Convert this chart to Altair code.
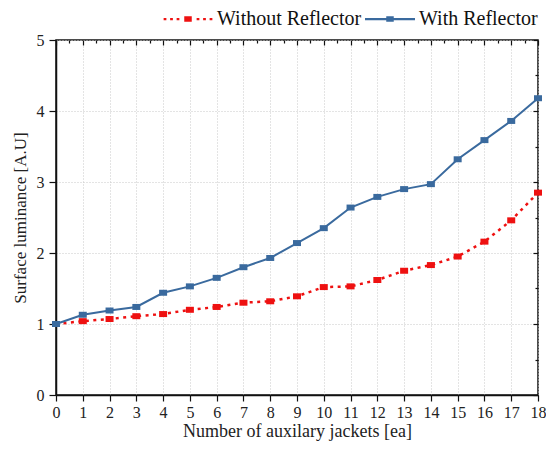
import altair as alt
import pandas as pd

# ---- data ----
jackets = list(range(19))
without_reflector = [1.00, 1.04, 1.07, 1.11, 1.14, 1.20, 1.24, 1.30, 1.32, 1.39,
                     1.52, 1.53, 1.62, 1.75, 1.83, 1.95, 2.16, 2.46, 2.85]
with_reflector = [1.00, 1.13, 1.19, 1.24, 1.44, 1.53, 1.65, 1.80, 1.93, 2.14,
                  2.35, 2.64, 2.79, 2.90, 2.97, 3.32, 3.59, 3.86, 4.18]
series_names = ["Without Reflector", "With Reflector"]
series_colors = ["#ee1111", "#3a6a9e"]
x_tick_values = [i / 2 for i in range(37)]
y_tick_values = [i / 2 for i in range(11)]

df = pd.DataFrame({
    "jackets": jackets * 2,
    "lum": without_reflector + with_reflector,
    "series": [series_names[0]] * len(jackets) + [series_names[1]] * len(jackets),
})

W, H = 482, 355
FONT = "Liberation Serif"
IS_MAJOR = "datum.value % 1 === 0"


def cond(major, minor):
    return {"condition": {"test": IS_MAJOR, "value": major}, "value": minor}


def rect(cx, hw, hh):
    return f"M{cx - hw:.3f},{-hh:.3f}H{cx + hw:.3f}V{hh:.3f}H{cx - hw:.3f}Z"


marker_shape = rect(0, 1, 0.75)
legend_red = "".join(rect(c, 0.055, 0.045) for c in (-0.92, -0.66, -0.40, 0.40, 0.66, 0.92)) + rect(0, 0.15, 0.11)
legend_blue = rect(0, 1.0, 0.045) + rect(0, 0.15, 0.11)

x_scale = alt.Scale(domain=[0, 18], nice=False, zero=False)
y_scale = alt.Scale(domain=[0, 5], nice=False, zero=True)

font_props = dict(labelFont=FONT, titleFont=FONT, labelFontSize=16, labelColor="#222222",
                  titleColor="#222222", titleFontWeight="normal",
                  tickColor="#111111", tickWidth=1.2)

x_main = alt.X("jackets:Q", scale=x_scale, axis=alt.Axis(
    orient="bottom", values=x_tick_values, format="d",
    labelExpr=f"{IS_MAJOR} ? datum.label : ''", labelFlush=False, labelOverlap=False,
    tickSize=cond(6, 3), labelPadding=3,
    grid=True, gridOpacity=cond(1, 0), gridDash=[1, 2], gridColor="#c8c8c8",
    domainColor="#111111", domainWidth=1.5,
    title="Number of auxilary jackets [ea]", titlePadding=2, titleFontSize=18, **font_props))
y_main = alt.Y("lum:Q", scale=y_scale, axis=alt.Axis(
    orient="left", values=y_tick_values, format="d",
    labelExpr=f"{IS_MAJOR} ? datum.label : ''", labelFlush=False, labelOverlap=False,
    tickSize=cond(7, 3.5), labelPadding=5,
    grid=True, gridOpacity=cond(1, 0), gridDash=[1, 2], gridColor="#c8c8c8",
    domainColor="#111111", domainWidth=1.5,
    title="Surface luminance [A.U]", titlePadding=7, titleFontSize=17, **font_props))

x_inner = alt.X("jackets:Q", scale=x_scale, axis=alt.Axis(
    orient="bottom", offset=-H, values=x_tick_values, labels=False, domain=False,
    grid=False, title=None, tickSize=cond(5, 3), tickColor="#111111", tickWidth=1.2))
y_inner = alt.Y("lum:Q", scale=y_scale, axis=alt.Axis(
    orient="left", offset=-W, values=y_tick_values, labels=False, domain=False,
    grid=False, title=None, tickSize=cond(5, 3), tickColor="#111111", tickWidth=1.2))

x_plain = alt.X("jackets:Q", scale=x_scale, axis=None)
y_plain = alt.Y("lum:Q", scale=y_scale, axis=None)

base = alt.Chart(df)

red_line = base.transform_filter(alt.datum.series == series_names[0]).mark_line(
    color=series_colors[0], strokeWidth=2.5, strokeDash=[3, 4.5]
).encode(x=x_main, y=y_main)

red_pts = base.transform_filter(alt.datum.series == series_names[0]).mark_point(
    shape=marker_shape, filled=True, size=64, color=series_colors[0], opacity=1
).encode(x=x_inner, y=y_inner)

blue_line = base.transform_filter(alt.datum.series == series_names[1]).mark_line(
    color=series_colors[1], strokeWidth=2
).encode(x=x_plain, y=y_plain)

blue_pts = base.transform_filter(alt.datum.series == series_names[1]).mark_point(
    shape=marker_shape, filled=True, size=64, color=series_colors[1], opacity=1
).encode(x=x_plain, y=y_plain)

legend = alt.Legend(
    orient="none", legendX=107, legendY=-46, direction="horizontal", title=None,
    symbolSize=2500, symbolStrokeWidth=0, labelFont=FONT, labelFontSize=20,
    labelColor="#111111", labelOffset=4, columnPadding=3, padding=0)

legend_layer = base.transform_filter("false").mark_point(filled=True, opacity=1).encode(
    color=alt.Color("series:N", scale=alt.Scale(domain=series_names, range=series_colors), legend=legend),
    shape=alt.Shape("series:N", scale=alt.Scale(domain=series_names, range=[legend_red, legend_blue]), legend=legend),
)

chart = alt.layer(red_line, red_pts, blue_line, blue_pts, legend_layer).resolve_axis(
    x="independent", y="independent"
).properties(
    width=W, height=H,
    autosize=alt.AutoSizeParams(type="none"),
    padding={"left": 48, "top": 32, "right": 8, "bottom": 46},
).configure_view(
    stroke="#111111", strokeWidth=1.5
).configure_axis(
    labelFont=FONT, titleFont=FONT,
)

chart.save("out.html", embed_options={"renderer": "svg", "actions": False})
